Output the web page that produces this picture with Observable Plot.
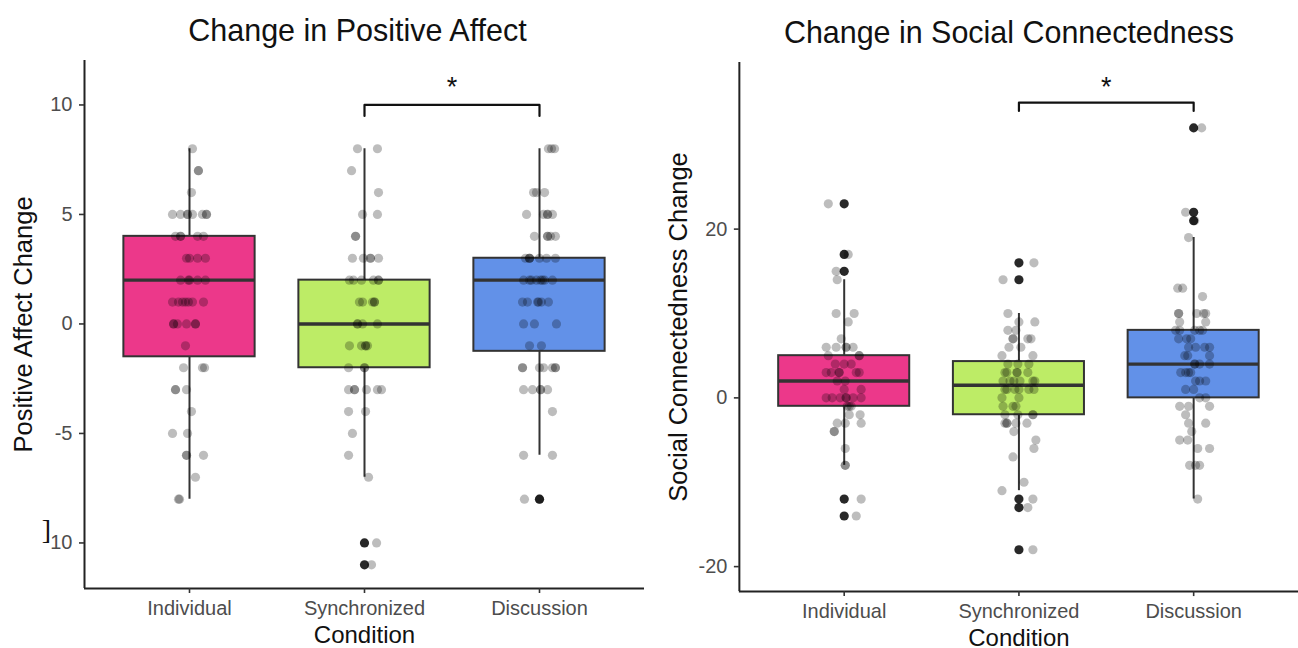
<!DOCTYPE html>
<html><head><meta charset="utf-8">
<script src="https://cdn.jsdelivr.net/npm/d3@7"></script>
<script src="https://cdn.jsdelivr.net/npm/@observablehq/plot@0.6"></script>
<style>
html,body{margin:0;padding:0;background:#fff;width:1298px;height:648px;overflow:hidden;}
#left,#right{position:absolute;top:0;}
#left{left:0px}
#right{left:650px}
svg{overflow:visible}
</style></head><body>
<div id="left"></div><div id="right"></div>
<script>
// ---------- shared ----------
const categories = ["Individual", "Synchronized", "Discussion"];
const boxFill = ["#EC388A", "#BDEC66", "#6291E8"];
const xLabel = "Condition";

// ---------- Positive Affect ----------
const paTitle = "Change in Positive Affect";
const paYLabel = "Positive Affect Change";
const paYDomain = [-12.08, 12.03];
const paYTicks = [-10, -5, 0, 5, 10];
const paYTickLabels = ["10", "-5", "0", "5", "10"];
const paQ1 = [-1.5, -2, -1.25];
const paMedian = [2, 0, 2];
const paQ3 = [4, 2, 3];
const paLower = [-8, -7, -6];
const paUpper = [8, 8, 8];
const paOutlierGroup = ["Synchronized", "Synchronized", "Discussion"];
const paOutlierValue = [-10, -11, -8];
const paBracket = ["Synchronized", "Discussion"];
const paBracketY = [9.5, 10];
const paStarY = 10.8;
const paStray = "]";
const paStrayY = -9.4;
// jittered points: [value, horizontal jitter in category units]
const paIndividual = [[8,.017],[7,.051],[7,.051],[6,.011],
 [5,-.097],[5,-.051],[5,-.011],[5,-.011],[5,.017],[5,.074],[5,.097],[5,.097],
 [4,-.08],[4,-.051],[4,-.051],[4,.046],[4,.08],
 [3,-.017],[3,0],[3,.046],[3,.091],
 [2,-.051],[2,-.006],[2,0],[2,.046],[2,.091],
 [1,-.097],[1,-.063],[1,-.04],[1,-.023],[1,-.006],[1,.017],[1,.08],
 [0,-.091],[0,-.091],[0,-.069],[0,-.017],[0,.034],[0,.034],
 [-1,-.023],[-2,-.034],[-2,.074],[-2,.086],[-3,-.08],[-3,-.08],[-3,-.017],
 [-4,.011],[-5,-.097],[-5,-.011],[-6,-.017],[-6,-.017],[-6,.08],[-7,.034],
 [-8,-.063],[-8,-.057]];
const paSynchronized = [[8,-.04],[8,.074],[7,-.074],[6,.08],[5,-.011],[5,.074],
 [4,-.051],[4,-.051],
 [3,-.069],[3,-.006],[3,.034],[3,.034],[3,.08],
 [2,-.086],[2,-.063],[2,-.017],[2,.051],[2,.08],[2,.08],
 [1,-.029],[1,-.011],[1,.046],[1,.057],[1,.057],
 [0,-.04],[0,-.04],[0,-.011],[0,.074],
 [-1,-.086],[-1,-.017],[-1,.006],[-1,.006],[-1,.017],
 [-2,-.091],[-2,0],[-2,0],
 [-3,-.091],[-3,-.057],[-3,-.057],[-3,.011],[-3,.074],[-3,.097],
 [-4,-.091],[-4,.006],[-5,-.069],[-6,-.091],[-7,.023],[-10,.069],[-11,.04]];
const paDiscussion = [[8,.051],[8,.069],[8,.086],[6,-.034],[6,-.017],[6,.029],
 [5,-.074],[5,.023],[5,.046],[5,.046],[5,.074],
 [4,-.029],[4,.046],[4,.046],[4,.063],[4,.091],
 [3,-.08],[3,-.057],[3,-.057],[3,-.057],[3,0],[3,.04],[3,.091],
 [2,-.091],[2,-.057],[2,-.046],[2,-.017],[2,.006],[2,.017],[2,.029],[2,.074],
 [1,-.097],[1,-.069],[1,-.011],[1,-.006],[1,.011],[1,.051],
 [0,-.091],[0,-.029],[0,.097],[-1,-.057],[-1,.011],
 [-2,-.097],[-2,-.097],[-2,0],[-2,.023],[-2,.074],[-2,.091],[-2,.091],
 [-3,-.091],[-3,-.04],[-3,.006],[-3,.006],[-3,.046],
 [-4,.074],[-6,-.091],[-6,.074],[-8,-.086],[-8,0]];

// ---------- Social Connectedness ----------
const scTitle = "Change in Social Connectedness";
const scYLabel = "Social Connectedness Change";
const scYDomain = [-22.96, 39.76];
const scYTicks = [-20, 0, 20];
const scYTickLabels = ["-20", "0", "20"];
const scQ1 = [-1, -2, 0];
const scMedian = [2, 1.5, 4];
const scQ3 = [5, 4.3, 8];
const scLower = [-8, -11, -12];
const scUpper = [14, 10, 19];
const scOutlierGroup = ["Individual","Individual","Individual","Individual","Individual",
 "Synchronized","Synchronized","Synchronized","Synchronized","Synchronized",
 "Discussion","Discussion","Discussion"];
const scOutlierValue = [23, 17, 15, -12, -14, 16, 14, -12, -13, -18, 32, 22, 21];
const scBracket = ["Synchronized", "Discussion"];
const scBracketY = [34, 35];
const scStarY = 36.8;
const scIndividual = [[23,-.091],[17,.023],[15,-.046],[14,-.04],[10,-.046],[10,.057],[9,.023],[7,-.017],
 [6,-.103],[6,-.046],[6,.011],[6,.011],[6,.051],
 [5,-.091],[5,.086],[5,.086],
 [4,-.051],[4,0],[4,.04],
 [3,-.103],[3,-.074],[3,-.029],[3,-.029],[3,.069],[3,.086],
 [2,-.04],[2,.006],[1,0],[1,.097],
 [0,-.103],[0,-.069],[0,-.023],[0,.011],[0,.011],[0,.051],[0,.097],
 [-1,.017],[-1,.04],[-1,.029],[-2,.029],[-2,.091],
 [-3,-.04],[-3,.006],[-3,.097],[-4,-.057],[-4,-.057],[-6,.006],[-8,.006],[-8,.006],
 [-12,.097],[-14,.069]];
const scSynchronized = [[16,.086],[14,-.091],[10,-.063],[9,0],[9,.091],[8,-.063],[8,-.017],
 [7,-.034],[7,-.034],[7,.051],[7,.069],[6,-.057],[6,.011],[5,-.097],[5,.08],
 [4,-.063],[4,-.006],[4,.057],
 [3,-.08],[3,-.069],[3,-.011],[3,-.011],[3,.051],
 [2,-.091],[2,-.051],[2,-.029],[2,.006],[2,.08],[2,.091],
 [1,-.08],[1,-.069],[1,-.023],[1,0],[1,.057],[1,.086],
 [0,-.097],[0,0],[-1,-.091],[-1,-.034],[-1,-.017],
 [-2,-.08],[-2,-.006],[-2,.08],[-2,.08],
 [-3,-.08],[-3,-.069],[-3,-.069],[-3,-.017],[-3,.046],
 [-4,-.029],[-5,.097],[-6,.086],[-7,-.034],[-10,.029],[-11,-.097],[-12,.08],[-13,.051],[-18,.08]];
const scDiscussion = [[32,.046],[22,-.046],[21,.006],[19,-.029],[13,-.091],[13,-.063],[12,.051],
 [10,-.086],[10,-.086],[10,.017],[10,.057],[10,.069],[9,-.08],[9,.069],
 [8,-.103],[8,-.08],[8,.006],[8,.034],[8,.051],
 [7,-.086],[7,-.04],[7,-.017],
 [6,-.029],[6,.011],[6,.063],[6,.091],
 [5,-.051],[5,-.034],[5,.091],
 [4,.006],[4,.006],[4,.034],[4,.091],
 [3,-.074],[3,-.046],[3,-.029],[3,-.017],
 [2,.011],[2,.034],[2,.069],[1,-.046],[1,0],[0,.034],[0,.069],
 [-1,-.08],[-1,-.029],[-1,.091],[-2,-.046],[-3,-.029],[-3,.069],[-4,-.011],
 [-5,-.08],[-5,-.034],[-6,.023],[-6,.091],[-8,-.023],[-8,.011],[-8,.034],[-12,.023]];

const FONT = "'Liberation Sans', Arial, Helvetica, sans-serif";

function panel(el, cfg) {
  const idx = c => categories.indexOf(c) + 1;
  const half = 0.375;
  const boxes = categories.map((c, i) => ({
    x: i + 1, q1: cfg.q1[i], med: cfg.med[i], q3: cfg.q3[i],
    lo: cfg.lo[i], hi: cfg.hi[i], fill: boxFill[i]
  }));
  const pts = cfg.groups.flatMap((g, gi) => g.map(([v, j]) => ({x: gi + 1 + j, y: v})));
  const outs = cfg.outGroup.map((c, i) => ({x: idx(c), y: cfg.outValue[i]}));
  const [a, b] = cfg.bracket.map(idx);
  const br = [
    {x: a, y: cfg.bracketY[0]}, {x: a, y: cfg.bracketY[1]},
    {x: b, y: cfg.bracketY[1]}, {x: b, y: cfg.bracketY[0]}
  ];
  const marks = [
    Plot.ruleX(boxes, {x: "x", y1: "lo", y2: "hi", stroke: "#333", strokeWidth: 2}),
    Plot.rect(boxes, {x1: d => d.x - half, x2: d => d.x + half, y1: "q1", y2: "q3",
      fill: "fill", stroke: "#333", strokeWidth: 2}),
    Plot.ruleY(boxes, {y: "med", x1: d => d.x - half, x2: d => d.x + half, stroke: "#333", strokeWidth: 3.4}),
    Plot.dot(outs, {x: "x", y: "y", r: 4.6, fill: "#111", fillOpacity: 0.9, stroke: null}),
    Plot.dot(pts, {x: "x", y: "y", r: 4.6, fill: "black", fillOpacity: 0.26, stroke: null}),
    Plot.line(br, {x: "x", y: "y", stroke: "#111", strokeWidth: 2.2}),
    Plot.text(["*"], {x: (a + b) / 2, y: cfg.starY, fontSize: 27, fill: "#111", lineAnchor: "middle"}),
    Plot.ruleX([0.4], {stroke: "#222", strokeWidth: 2}),
    Plot.ruleY([cfg.yDomain[0]], {stroke: "#222", strokeWidth: 2}),
    Plot.axisY(cfg.yTicks, {tickFormat: d => cfg.yTickLabels[cfg.yTicks.indexOf(d)], label: null,
      fontSize: 20, tickSize: 5, tickPadding: 7, stroke: "#333", strokeWidth: 1.6, fill: "#4d4d4d"}),
    Plot.axisX([1, 2, 3], {tickFormat: d => categories[d - 1], label: null,
      fontSize: 20, tickSize: 5, tickPadding: 7, stroke: "#333", strokeWidth: 1.6, fill: "#4d4d4d"}),
    Plot.text([cfg.title], {frameAnchor: "top", lineAnchor: "bottom", dy: cfg.titleDy, dx: cfg.titleDx,
      fontSize: 30.5, fill: "#111"}),
    Plot.text([cfg.ylabel], {frameAnchor: "left", textAnchor: "middle", rotate: -90, dx: -61, lineAnchor: "middle",
      fontSize: 25.5, fill: "#111"}),
    Plot.text([xLabel], {frameAnchor: "bottom", lineAnchor: "top", dy: 37, fontSize: 24, fill: "#111"})
  ];
  if (cfg.stray) {
    marks.push(Plot.text([cfg.stray], {frameAnchor: "left", textAnchor: "middle", y: cfg.strayY, dx: -38, fontSize: 28,
      fontFamily: "'Liberation Serif', 'DejaVu Serif', serif", fill: "#111", lineAnchor: "middle"}));
  }
  const chart = Plot.plot({
    width: cfg.width, height: 648,
    marginLeft: cfg.ml, marginRight: cfg.mr, marginTop: cfg.mt, marginBottom: cfg.mb,
    x: {type: "linear", domain: [0.4, 3.6]},
    y: {domain: cfg.yDomain},
    color: {type: "identity"},
    style: {fontFamily: FONT, background: "transparent", overflow: "visible"},
    marks
  });
  document.getElementById(el).append(chart);
}

panel("left", {
  title: paTitle, ylabel: paYLabel, yDomain: paYDomain, yTicks: paYTicks, yTickLabels: paYTickLabels,
  q1: paQ1, med: paMedian, q3: paQ3, lo: paLower, hi: paUpper,
  outGroup: paOutlierGroup, outValue: paOutlierValue,
  groups: [paIndividual, paSynchronized, paDiscussion],
  bracket: paBracket, bracketY: paBracketY, starY: paStarY,
  stray: paStray, strayY: paStrayY,
  width: 650, ml: 84, mr: 6, mt: 60, mb: 60, titleDy: -20, titleDx: -7
});
panel("right", {
  title: scTitle, ylabel: scYLabel, yDomain: scYDomain, yTicks: scYTicks, yTickLabels: scYTickLabels,
  q1: scQ1, med: scMedian, q3: scQ3, lo: scLower, hi: scUpper,
  outGroup: scOutlierGroup, outValue: scOutlierValue,
  groups: [scIndividual, scSynchronized, scDiscussion],
  bracket: scBracket, bracketY: scBracketY, starY: scStarY,
  width: 649, ml: 89, mr: 0, mt: 62, mb: 56, titleDy: -19, titleDx: -10
});
</script></body></html>
